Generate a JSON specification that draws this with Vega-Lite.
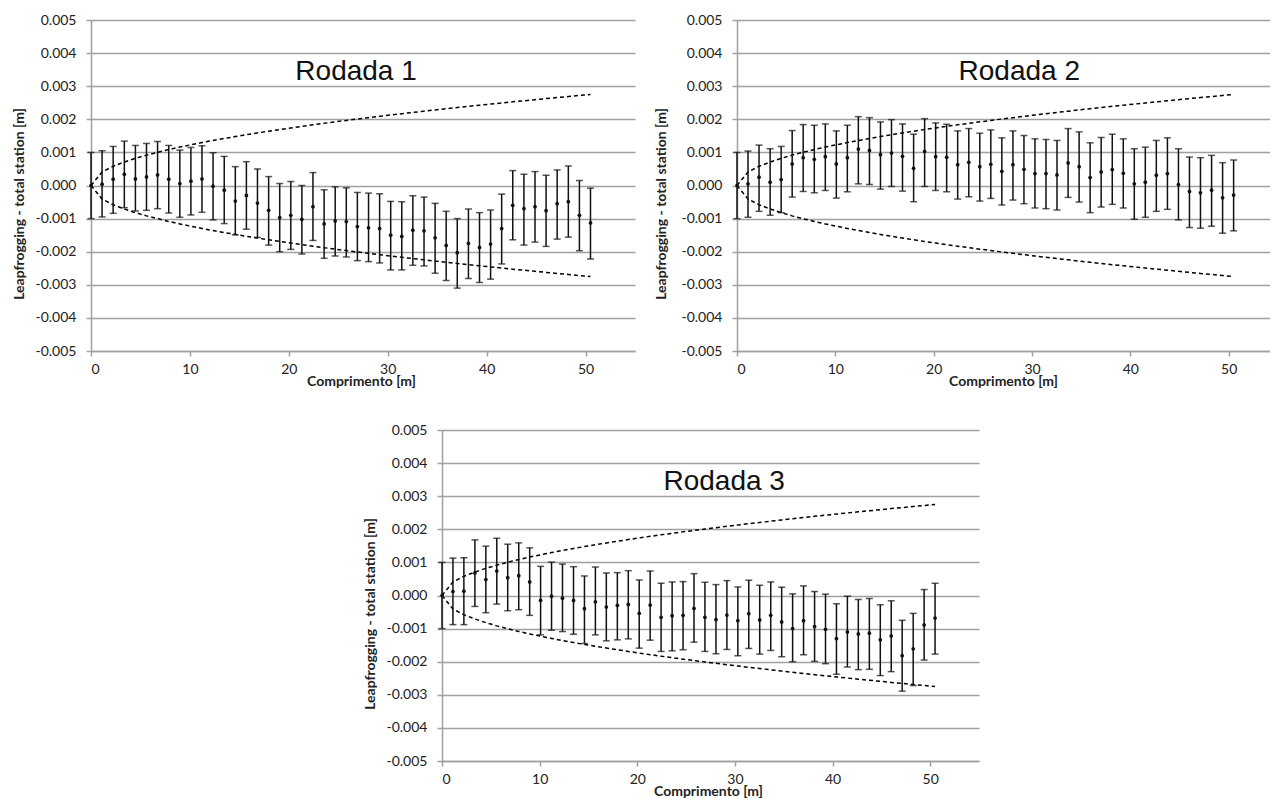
{
"$schema": "https://vega.github.io/schema/vega-lite/v6.json",
"padding": {"left": 12, "top": 13, "right": 0, "bottom": 0},
"config": {
 "view": {"stroke": null},
 "axis": {"labelFont": "Lato", "labelFontSize": 14, "labelColor": "#222", "titleFont": "Lato", "titleFontSize": 14, "titleFontWeight": "bold", "titleColor": "#222", "domainColor": "#a0a0a0", "domainWidth": 1.5, "tickColor": "#a0a0a0", "tickWidth": 1.5, "tickSize": 5, "gridColor": "#a0a0a0", "gridWidth": 1.5, "gridOpacity": 1, "labelOverlap": false},
 "axisX": {"grid": false, "labelPadding": 6, "titleY": 34, "titleBaseline": "alphabetic", "tickCount": 12},
 "axisY": {"grid": true, "labelPadding": 10, "titleY": 183.5, "titleBaseline": "middle", "tickCount": 12, "labelExpr": "(datum.value < 0 ? '-' : '') + format(abs(datum.value), '.3f')"}
},
"datasets": {
 "env": [
  {"x":0,"up":0,"dn":0},{"x":1.12,"up":0.00041,"dn":-0.00041},{"x":2.24,"up":0.00058,"dn":-0.00058},{"x":3.37,"up":0.00071,"dn":-0.00071},{"x":4.49,"up":0.00082,"dn":-0.00082},{"x":5.61,"up":0.000917,"dn":-0.000917},{"x":6.73,"up":0.001004,"dn":-0.001004},{"x":7.86,"up":0.001085,"dn":-0.001085},{"x":8.98,"up":0.00116,"dn":-0.00116},{"x":10.1,"up":0.00123,"dn":-0.00123},{"x":11.22,"up":0.001296,"dn":-0.001296},{"x":12.34,"up":0.00136,"dn":-0.00136},{"x":13.47,"up":0.00142,"dn":-0.00142},{"x":14.59,"up":0.001478,"dn":-0.001478},{"x":15.71,"up":0.001534,"dn":-0.001534},{"x":16.83,"up":0.001588,"dn":-0.001588},{"x":17.96,"up":0.00164,"dn":-0.00164},{"x":19.08,"up":0.00169,"dn":-0.00169},{"x":20.2,"up":0.001739,"dn":-0.001739},{"x":21.32,"up":0.001787,"dn":-0.001787},{"x":22.44,"up":0.001833,"dn":-0.001833},{"x":23.57,"up":0.001879,"dn":-0.001879},{"x":24.69,"up":0.001923,"dn":-0.001923},{"x":25.81,"up":0.001966,"dn":-0.001966},{"x":26.93,"up":0.002008,"dn":-0.002008},{"x":28.06,"up":0.00205,"dn":-0.00205},{"x":29.18,"up":0.00209,"dn":-0.00209},{"x":30.3,"up":0.00213,"dn":-0.00213},{"x":31.42,"up":0.002169,"dn":-0.002169},{"x":32.54,"up":0.002208,"dn":-0.002208},{"x":33.67,"up":0.002245,"dn":-0.002245},{"x":34.79,"up":0.002283,"dn":-0.002283},{"x":35.91,"up":0.002319,"dn":-0.002319},{"x":37.03,"up":0.002355,"dn":-0.002355},{"x":38.16,"up":0.002391,"dn":-0.002391},{"x":39.28,"up":0.002425,"dn":-0.002425},{"x":40.4,"up":0.00246,"dn":-0.00246},{"x":41.52,"up":0.002494,"dn":-0.002494},{"x":42.64,"up":0.002527,"dn":-0.002527},{"x":43.77,"up":0.00256,"dn":-0.00256},{"x":44.89,"up":0.002593,"dn":-0.002593},{"x":46.01,"up":0.002625,"dn":-0.002625},{"x":47.13,"up":0.002657,"dn":-0.002657},{"x":48.26,"up":0.002688,"dn":-0.002688},{"x":49.38,"up":0.00272,"dn":-0.00272},{"x":50.5,"up":0.00275,"dn":-0.00275}
 ],
 "r1": [
  {"x":0,"y":0,"lo":-0.001,"hi":0.001},{"x":1.12,"y":0.00004,"lo":-0.00095,"hi":0.00105},{"x":2.24,"y":0.00019,"lo":-0.00084,"hi":0.00118},{"x":3.37,"y":0.00034,"lo":-0.00067,"hi":0.00134},{"x":4.49,"y":0.0002,"lo":-0.00077,"hi":0.00121},{"x":5.61,"y":0.00026,"lo":-0.00075,"hi":0.00127},{"x":6.73,"y":0.00032,"lo":-0.0007,"hi":0.00133},{"x":7.86,"y":0.00019,"lo":-0.00083,"hi":0.00121},{"x":8.98,"y":0.00006,"lo":-0.00096,"hi":0.00107},{"x":10.1,"y":0.00013,"lo":-0.00089,"hi":0.00115},{"x":11.22,"y":0.0002,"lo":-0.00081,"hi":0.0012},{"x":12.34,"y":-0.00002,"lo":-0.00104,"hi":0.00099},{"x":13.47,"y":-0.00014,"lo":-0.00115,"hi":0.00088},{"x":14.59,"y":-0.00047,"lo":-0.00149,"hi":0.00057},{"x":15.71,"y":-0.0003,"lo":-0.00132,"hi":0.00072},{"x":16.83,"y":-0.00053,"lo":-0.00157,"hi":0.0005},{"x":17.96,"y":-0.00075,"lo":-0.0018,"hi":0.00027},{"x":19.08,"y":-0.00097,"lo":-0.002,"hi":0.00006},{"x":20.2,"y":-0.0009,"lo":-0.00193,"hi":0.00012},{"x":21.32,"y":-0.00102,"lo":-0.00207,"hi":0},{"x":22.44,"y":-0.00064,"lo":-0.00166,"hi":0.00039},{"x":23.57,"y":-0.00116,"lo":-0.0022,"hi":-0.00013},{"x":24.69,"y":-0.00107,"lo":-0.00213,"hi":-0.00004},{"x":25.81,"y":-0.00109,"lo":-0.00216,"hi":-0.00007},{"x":26.93,"y":-0.00124,"lo":-0.00227,"hi":-0.00021},{"x":28.06,"y":-0.00128,"lo":-0.0023,"hi":-0.00023},{"x":29.18,"y":-0.0013,"lo":-0.00234,"hi":-0.00025},{"x":30.3,"y":-0.0015,"lo":-0.00255,"hi":-0.00048},{"x":31.42,"y":-0.00154,"lo":-0.00255,"hi":-0.00049},{"x":32.54,"y":-0.00135,"lo":-0.00241,"hi":-0.00031},{"x":33.67,"y":-0.00137,"lo":-0.00243,"hi":-0.00035},{"x":34.79,"y":-0.00158,"lo":-0.00265,"hi":-0.00054},{"x":35.91,"y":-0.00181,"lo":-0.00287,"hi":-0.00078},{"x":37.03,"y":-0.00203,"lo":-0.0031,"hi":-0.001},{"x":38.16,"y":-0.00175,"lo":-0.00281,"hi":-0.00071},{"x":39.28,"y":-0.00187,"lo":-0.00293,"hi":-0.00082},{"x":40.4,"y":-0.00177,"lo":-0.00283,"hi":-0.00074},{"x":41.52,"y":-0.0013,"lo":-0.00237,"hi":-0.00026},{"x":42.64,"y":-0.0006,"lo":-0.00164,"hi":0.00045},{"x":43.77,"y":-0.0007,"lo":-0.0018,"hi":0.00034},{"x":44.89,"y":-0.00064,"lo":-0.00171,"hi":0.00042},{"x":46.01,"y":-0.00076,"lo":-0.00184,"hi":0.00031},{"x":47.13,"y":-0.00055,"lo":-0.00162,"hi":0.00047},{"x":48.26,"y":-0.00049,"lo":-0.00156,"hi":0.00059},{"x":49.38,"y":-0.0009,"lo":-0.00197,"hi":0.00015},{"x":50.5,"y":-0.00113,"lo":-0.00222,"hi":-0.00008}
 ],
 "r2": [
  {"x":0,"y":0,"lo":-0.001,"hi":0.001},{"x":1.12,"y":0.00005,"lo":-0.00096,"hi":0.00104},{"x":2.24,"y":0.00025,"lo":-0.00078,"hi":0.00122},{"x":3.37,"y":0.0001,"lo":-0.0009,"hi":0.00111},{"x":4.49,"y":0.00018,"lo":-0.00082,"hi":0.00118},{"x":5.61,"y":0.00065,"lo":-0.00035,"hi":0.00166},{"x":6.73,"y":0.00084,"lo":-0.00018,"hi":0.00184},{"x":7.86,"y":0.00079,"lo":-0.00022,"hi":0.00182},{"x":8.98,"y":0.00087,"lo":-0.00015,"hi":0.00186},{"x":10.1,"y":0.00065,"lo":-0.00038,"hi":0.00165},{"x":11.22,"y":0.00084,"lo":-0.00019,"hi":0.00182},{"x":12.34,"y":0.0011,"lo":0.00005,"hi":0.00208},{"x":13.47,"y":0.00106,"lo":0.00003,"hi":0.00205},{"x":14.59,"y":0.00093,"lo":-0.00011,"hi":0.00192},{"x":15.71,"y":0.00098,"lo":-0.00003,"hi":0.00199},{"x":16.83,"y":0.00088,"lo":-0.00017,"hi":0.00186},{"x":17.96,"y":0.00052,"lo":-0.00049,"hi":0.00155},{"x":19.08,"y":0.00103,"lo":-0.00003,"hi":0.00202},{"x":20.2,"y":0.00087,"lo":-0.00015,"hi":0.00189},{"x":21.32,"y":0.00085,"lo":-0.00019,"hi":0.00185},{"x":22.44,"y":0.00063,"lo":-0.00041,"hi":0.00165},{"x":23.57,"y":0.0007,"lo":-0.00034,"hi":0.00172},{"x":24.69,"y":0.00057,"lo":-0.00047,"hi":0.00158},{"x":25.81,"y":0.00064,"lo":-0.00039,"hi":0.00168},{"x":26.93,"y":0.00043,"lo":-0.00059,"hi":0.00144},{"x":28.06,"y":0.00063,"lo":-0.00044,"hi":0.00165},{"x":29.18,"y":0.00049,"lo":-0.00055,"hi":0.00151},{"x":30.3,"y":0.00036,"lo":-0.00068,"hi":0.00141},{"x":31.42,"y":0.00036,"lo":-0.0007,"hi":0.00139},{"x":32.54,"y":0.00032,"lo":-0.00074,"hi":0.00136},{"x":33.67,"y":0.00068,"lo":-0.00036,"hi":0.00172},{"x":34.79,"y":0.00057,"lo":-0.0005,"hi":0.00162},{"x":35.91,"y":0.00024,"lo":-0.00082,"hi":0.00129},{"x":37.03,"y":0.00041,"lo":-0.00065,"hi":0.00145},{"x":38.16,"y":0.00048,"lo":-0.00057,"hi":0.00155},{"x":39.28,"y":0.00037,"lo":-0.00068,"hi":0.00141},{"x":40.4,"y":0.00005,"lo":-0.00102,"hi":0.00111},{"x":41.52,"y":0.0001,"lo":-0.00096,"hi":0.00116},{"x":42.64,"y":0.00031,"lo":-0.00078,"hi":0.00136},{"x":43.77,"y":0.00036,"lo":-0.00072,"hi":0.00144},{"x":44.89,"y":0.00003,"lo":-0.00104,"hi":0.00111},{"x":46.01,"y":-0.00018,"lo":-0.00127,"hi":0.00086},{"x":47.13,"y":-0.00022,"lo":-0.00129,"hi":0.00084},{"x":48.26,"y":-0.00014,"lo":-0.00123,"hi":0.00091},{"x":49.38,"y":-0.00037,"lo":-0.00144,"hi":0.00069},{"x":50.5,"y":-0.00029,"lo":-0.00137,"hi":0.00077}
 ],
 "r3": [
  {"x":0,"y":0,"lo":-0.001,"hi":0.001},{"x":1.12,"y":0.00012,"lo":-0.00088,"hi":0.00113},{"x":2.24,"y":0.00013,"lo":-0.00088,"hi":0.00114},{"x":3.37,"y":0.00068,"lo":-0.00033,"hi":0.00168},{"x":4.49,"y":0.00048,"lo":-0.00052,"hi":0.00149},{"x":5.61,"y":0.00074,"lo":-0.00026,"hi":0.00173},{"x":6.73,"y":0.00054,"lo":-0.00046,"hi":0.00155},{"x":7.86,"y":0.0006,"lo":-0.00043,"hi":0.00159},{"x":8.98,"y":0.00041,"lo":-0.0006,"hi":0.00144},{"x":10.1,"y":-0.00015,"lo":-0.00119,"hi":0.00088},{"x":11.22,"y":-0.00002,"lo":-0.00105,"hi":0.00101},{"x":12.34,"y":-0.00008,"lo":-0.00109,"hi":0.00095},{"x":13.47,"y":-0.00015,"lo":-0.00117,"hi":0.00087},{"x":14.59,"y":-0.0004,"lo":-0.00145,"hi":0.00059},{"x":15.71,"y":-0.00019,"lo":-0.00119,"hi":0.00086},{"x":16.83,"y":-0.00035,"lo":-0.00137,"hi":0.00068},{"x":17.96,"y":-0.0003,"lo":-0.00134,"hi":0.00069},{"x":19.08,"y":-0.00027,"lo":-0.00131,"hi":0.00075},{"x":20.2,"y":-0.00054,"lo":-0.00159,"hi":0.00047},{"x":21.32,"y":-0.00029,"lo":-0.00135,"hi":0.00074},{"x":22.44,"y":-0.00066,"lo":-0.00169,"hi":0.00037},{"x":23.57,"y":-0.00061,"lo":-0.00167,"hi":0.00041},{"x":24.69,"y":-0.0006,"lo":-0.00164,"hi":0.00042},{"x":25.81,"y":-0.00039,"lo":-0.00141,"hi":0.00066},{"x":26.93,"y":-0.00066,"lo":-0.00169,"hi":0.0004},{"x":28.06,"y":-0.00073,"lo":-0.00176,"hi":0.00033},{"x":29.18,"y":-0.00059,"lo":-0.00163,"hi":0.00045},{"x":30.3,"y":-0.00076,"lo":-0.00182,"hi":0.00026},{"x":31.42,"y":-0.00055,"lo":-0.0016,"hi":0.00046},{"x":32.54,"y":-0.00074,"lo":-0.00177,"hi":0.00031},{"x":33.67,"y":-0.0006,"lo":-0.00166,"hi":0.00041},{"x":34.79,"y":-0.0008,"lo":-0.00185,"hi":0.00025},{"x":35.91,"y":-0.001,"lo":-0.002,"hi":0.00005},{"x":37.03,"y":-0.00076,"lo":-0.00179,"hi":0.00029},{"x":38.16,"y":-0.00094,"lo":-0.00199,"hi":0.00012},{"x":39.28,"y":-0.00102,"lo":-0.00206,"hi":0.00004},{"x":40.4,"y":-0.0013,"lo":-0.00238,"hi":-0.00025},{"x":41.52,"y":-0.0011,"lo":-0.00216,"hi":-0.00002},{"x":42.64,"y":-0.00116,"lo":-0.00224,"hi":-0.00012},{"x":43.77,"y":-0.00114,"lo":-0.00223,"hi":-0.00009},{"x":44.89,"y":-0.00134,"lo":-0.00242,"hi":-0.00028},{"x":46.01,"y":-0.00122,"lo":-0.0023,"hi":-0.00016},{"x":47.13,"y":-0.00182,"lo":-0.00289,"hi":-0.00075},{"x":48.26,"y":-0.00161,"lo":-0.00272,"hi":-0.00054},{"x":49.38,"y":-0.00089,"lo":-0.00195,"hi":0.00018},{"x":50.5,"y":-0.00068,"lo":-0.00177,"hi":0.00037}
 ]
},
"vconcat": [
 {"hconcat": [
  {"width": 544, "height": 331,
   "layer": [
    {"data": {"name": "env"}, "mark": {"type": "line", "color": "black", "strokeDash": [4, 3], "strokeWidth": 1.5},
     "encoding": {"x": {"field": "x", "type": "quantitative", "title": "Comprimento [m]", "scale": {"domain": [0, 55], "nice": false}, "axis": {"values": [0, 10, 20, 30, 40, 50], "titleX": 270}},
                  "y": {"field": "up", "type": "quantitative", "title": "Leapfrogging - total station [m]", "scale": {"domain": [-0.005, 0.005], "nice": false}, "axis": {"values": [-0.005, -0.004, -0.003, -0.002, -0.001, 0, 0.001, 0.002, 0.003, 0.004, 0.005], "titleX": -72}}}},
    {"data": {"name": "env"}, "mark": {"type": "line", "color": "black", "strokeDash": [4, 3], "strokeWidth": 1.5},
     "encoding": {"x": {"field": "x", "type": "quantitative", "title": "Comprimento [m]"}, "y": {"field": "dn", "type": "quantitative", "title": "Leapfrogging - total station [m]"}}},
    {"data": {"name": "r1"}, "mark": {"type": "errorbar", "ticks": true, "size": 7, "thickness": 1.5, "color": "#111"},
     "encoding": {"x": {"field": "x", "type": "quantitative", "title": "Comprimento [m]"}, "y": {"field": "lo", "type": "quantitative", "title": "Leapfrogging - total station [m]"}, "y2": {"field": "hi"}}},
    {"data": {"name": "r1"}, "mark": {"type": "circle", "size": 14, "color": "#111", "opacity": 1},
     "encoding": {"x": {"field": "x", "type": "quantitative", "title": "Comprimento [m]"}, "y": {"field": "y", "type": "quantitative", "title": "Leapfrogging - total station [m]"}}},
    {"data": {"values": [{"t": "Rodada 1"}]}, "mark": {"type": "text", "font": "Liberation Sans", "fontSize": 28, "color": "#111", "align": "center", "baseline": "middle"},
     "encoding": {"x": {"datum": 26.8, "type": "quantitative"}, "y": {"datum": 0.00343, "type": "quantitative"}, "text": {"field": "t"}}}
   ]},
  {"width": 533, "height": 331,
   "layer": [
    {"data": {"name": "env"}, "mark": {"type": "line", "color": "black", "strokeDash": [4, 3], "strokeWidth": 1.5},
     "encoding": {"x": {"field": "x", "type": "quantitative", "title": "Comprimento [m]", "scale": {"domain": [0, 54.2], "nice": false}, "axis": {"values": [0, 10, 20, 30, 40, 50], "titleX": 266}},
                  "y": {"field": "up", "type": "quantitative", "title": "Leapfrogging - total station [m]", "scale": {"domain": [-0.005, 0.005], "nice": false}, "axis": {"values": [-0.005, -0.004, -0.003, -0.002, -0.001, 0, 0.001, 0.002, 0.003, 0.004, 0.005], "titleX": -76}}}},
    {"data": {"name": "env"}, "mark": {"type": "line", "color": "black", "strokeDash": [4, 3], "strokeWidth": 1.5},
     "encoding": {"x": {"field": "x", "type": "quantitative", "title": "Comprimento [m]"}, "y": {"field": "dn", "type": "quantitative", "title": "Leapfrogging - total station [m]"}}},
    {"data": {"name": "r2"}, "mark": {"type": "errorbar", "ticks": true, "size": 7, "thickness": 1.5, "color": "#111"},
     "encoding": {"x": {"field": "x", "type": "quantitative", "title": "Comprimento [m]"}, "y": {"field": "lo", "type": "quantitative", "title": "Leapfrogging - total station [m]"}, "y2": {"field": "hi"}}},
    {"data": {"name": "r2"}, "mark": {"type": "circle", "size": 14, "color": "#111", "opacity": 1},
     "encoding": {"x": {"field": "x", "type": "quantitative", "title": "Comprimento [m]"}, "y": {"field": "y", "type": "quantitative", "title": "Leapfrogging - total station [m]"}}},
    {"data": {"values": [{"t": "Rodada 2"}]}, "mark": {"type": "text", "font": "Liberation Sans", "fontSize": 28, "color": "#111", "align": "center", "baseline": "middle"},
     "encoding": {"x": {"datum": 28.7, "type": "quantitative"}, "y": {"datum": 0.00343, "type": "quantitative"}, "text": {"field": "t"}}}
   ]}
 ], "spacing": 19},
 {"hconcat": [
  {"width": 272, "height": 10, "data": {"values": [{}]}, "mark": {"type": "rule", "opacity": 0}, "encoding": {}},
  {"width": 537, "height": 331,
   "layer": [
    {"data": {"name": "env"}, "mark": {"type": "line", "color": "black", "strokeDash": [4, 3], "strokeWidth": 1.5},
     "encoding": {"x": {"field": "x", "type": "quantitative", "title": "Comprimento [m]", "scale": {"domain": [0, 55], "nice": false}, "axis": {"values": [0, 10, 20, 30, 40, 50], "titleX": 266}},
                  "y": {"field": "up", "type": "quantitative", "title": "Leapfrogging - total station [m]", "scale": {"domain": [-0.005, 0.005], "nice": false}, "axis": {"values": [-0.005, -0.004, -0.003, -0.002, -0.001, 0, 0.001, 0.002, 0.003, 0.004, 0.005], "titleX": -72}}}},
    {"data": {"name": "env"}, "mark": {"type": "line", "color": "black", "strokeDash": [4, 3], "strokeWidth": 1.5},
     "encoding": {"x": {"field": "x", "type": "quantitative", "title": "Comprimento [m]"}, "y": {"field": "dn", "type": "quantitative", "title": "Leapfrogging - total station [m]"}}},
    {"data": {"name": "r3"}, "mark": {"type": "errorbar", "ticks": true, "size": 7, "thickness": 1.5, "color": "#111"},
     "encoding": {"x": {"field": "x", "type": "quantitative", "title": "Comprimento [m]"}, "y": {"field": "lo", "type": "quantitative", "title": "Leapfrogging - total station [m]"}, "y2": {"field": "hi"}}},
    {"data": {"name": "r3"}, "mark": {"type": "circle", "size": 14, "color": "#111", "opacity": 1},
     "encoding": {"x": {"field": "x", "type": "quantitative", "title": "Comprimento [m]"}, "y": {"field": "y", "type": "quantitative", "title": "Leapfrogging - total station [m]"}}},
    {"data": {"values": [{"t": "Rodada 3"}]}, "mark": {"type": "text", "font": "Liberation Sans", "fontSize": 28, "color": "#111", "align": "center", "baseline": "middle"},
     "encoding": {"x": {"datum": 28.9, "type": "quantitative"}, "y": {"datum": 0.00343, "type": "quantitative"}, "text": {"field": "t"}}}
   ]}
 ], "spacing": 0}
],
"spacing": 35
}
